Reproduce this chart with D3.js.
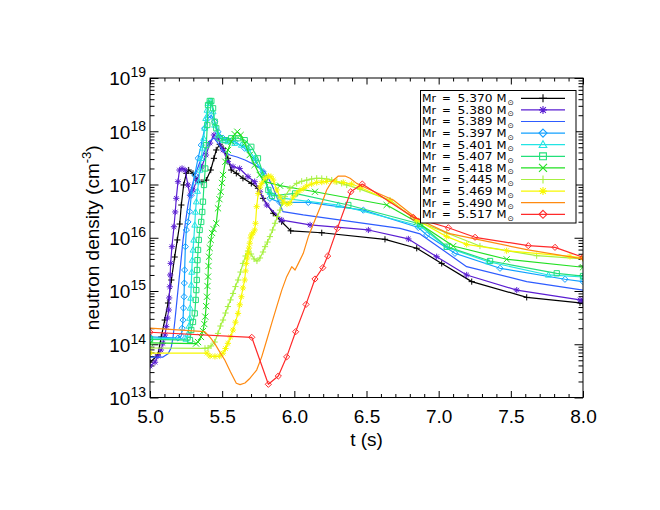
<!DOCTYPE html>
<html><head><meta charset="utf-8">
<script src="https://cdn.jsdelivr.net/npm/d3@7"></script>
<style>body{margin:0;background:#fff}svg{display:block}</style>
</head><body><svg id="c" width="660" height="510"></svg>
<script>
// ---------- data ----------
const categories = ["5.370","5.380","5.389","5.397","5.401","5.407","5.418","5.445","5.469","5.490","5.517"];

const t5370 = [5.000,5.055,5.078,5.102,5.125,5.148,5.171,5.189,5.206,5.217,5.233,5.252,5.268,5.298,5.328,5.360,5.390,5.421,5.443,5.459,5.483,5.506,5.540,5.563,5.598,5.644,5.702,5.748,5.783,5.854,5.912,5.975,6.190,6.628,6.848,7.021,7.229,7.610,7.979,8.000];
const n5370 = [4.6e13,6.3e13,1.37e14,2.85e14,5.95e14,1.61e15,4.35e15,9.1e15,1.81e16,4.12e16,9.8e16,1.62e17,1.87e17,1.62e17,1.21e17,1.1e17,1.21e17,1.87e17,3.1e17,4.45e17,5.7e17,4.78e17,3.1e17,1.87e17,1.62e17,1.31e17,1.05e17,8.5e16,5.5e16,2.88e16,2.0e16,1.35e16,1.24e16,9.35e15,6.35e15,3.3e15,1.5e15,7.6e14,6.0e14,5.8e14];

const t5380 = [5.000,5.035,5.055,5.076,5.090,5.104,5.113,5.121,5.130,5.133,5.137,5.140,5.143,5.152,5.166,5.175,5.182,5.194,5.204,5.222,5.243,5.263,5.277,5.298,5.326,5.358,5.388,5.416,5.443,5.471,5.506,5.540,5.575,5.621,5.679,5.725,5.762,5.809,5.913,6.109,6.513,6.790,6.986,7.194,7.541,7.979,8.000];
const n5380 = [3.9e13,4.6e13,6.0e13,7.8e13,1.04e14,1.49e14,2.14e14,3.1e14,4.4e14,7.4e14,1.2e15,2.0e15,3.3e15,6.8e15,1.61e16,3.05e16,5.5e16,1.13e17,1.87e17,2.0e17,1.87e17,9.8e16,6.3e16,7.9e16,1.21e17,2.13e17,3.58e17,6.0e17,8.5e17,7.4e17,4.45e17,2.68e17,2.16e17,2.0e17,1.4e17,1.13e17,7.3e16,4.12e16,2.15e16,1.74e16,1.4e16,9.5e15,4.4e15,2.0e15,1.04e15,6.8e14,6.6e14];

const t5389 = [5.000,5.090,5.125,5.146,5.159,5.173,5.187,5.201,5.215,5.229,5.246,5.263,5.284,5.312,5.346,5.381,5.416,5.443,5.471,5.506,5.554,5.603,5.658,5.728,5.797,5.845,5.887,5.921,6.062,6.732,6.871,7.194,7.610,8.000];
const n5389 = [5.75e13,5.75e13,6.6e13,8.5e13,1.31e14,2.85e14,6.8e14,1.61e15,3.8e15,9.1e15,1.98e16,4.12e16,7.9e16,1.51e17,2.65e17,4.45e17,6.6e17,7.5e17,6.0e17,4.25e17,3.58e17,3.28e17,2.88e17,2.32e17,1.72e17,9.8e16,5.1e16,3.1e16,2.68e16,1.5e16,1.18e16,2.86e15,1.5e15,1.04e15];

const t5397 = [5.000,5.194,5.217,5.223,5.229,5.232,5.236,5.238,5.240,5.245,5.252,5.263,5.275,5.286,5.310,5.333,5.355,5.379,5.402,5.425,5.448,5.471,5.506,5.540,5.587,5.656,5.725,5.783,5.831,5.901,6.097,6.478,6.859,6.917,7.113,7.425,7.875,8.000];
const n5397 = [1.37e14,1.31e14,1.43e14,2.0e14,2.85e14,4.8e14,7.8e14,1.41e15,2.48e15,6.8e15,1.4e16,1.98e16,3.1e16,6.3e16,1.51e17,3.1e17,5.5e17,1.14e18,1.75e18,2.0e18,1.51e18,9.8e17,7.4e17,6.8e17,6.4e17,4.78e17,2.88e17,1.74e17,5.5e16,4.6e16,4.6e16,3.3e16,1.56e16,1.13e16,5.1e15,2.67e15,1.66e15,1.5e15];

const t5401 = [5.000,5.249,5.263,5.270,5.275,5.278,5.282,5.286,5.289,5.293,5.298,5.303,5.310,5.315,5.321,5.329,5.337,5.346,5.355,5.364,5.372,5.379,5.386,5.395,5.402,5.421,5.437,5.448,5.471,5.506,5.540,5.587,5.633,5.679,5.725,5.783,5.831,5.901,6.305,6.871,7.056,7.344,7.760,8.000];
const n5401 = [1.31e14,1.25e14,1.56e14,2.2e14,3.1e14,4.8e14,7.4e14,1.3e15,2.27e15,3.8e15,5.9e15,9.1e15,1.74e16,3.05e16,4.75e16,7.5e16,1.13e17,1.87e17,3.1e17,4.85e17,7.4e17,1.15e18,1.75e18,2.5e18,3.35e18,3.6e18,2.33e18,1.31e18,8.5e17,6.8e17,6.4e17,5.95e17,5.5e17,4.78e17,3.1e17,1.51e17,7.2e16,5.6e16,4.12e16,1.66e16,6.6e15,3.55e15,2.0e15,1.83e15];

const t5407 = [5.000,5.277,5.286,5.298,5.310,5.317,5.321,5.324,5.326,5.329,5.333,5.338,5.344,5.355,5.362,5.367,5.374,5.383,5.390,5.397,5.402,5.414,5.425,5.437,5.448,5.459,5.483,5.518,5.563,5.610,5.656,5.702,5.748,5.795,5.820,5.845,6.005,6.374,6.871,7.056,7.356,7.818,8.000];
const n5407 = [1.23e14,1.2e14,1.85e14,2.62e14,3.8e14,6.8e14,1.04e15,1.61e15,2.48e15,3.8e15,5.9e15,9.1e15,1.4e16,1.98e16,3.05e16,4.75e16,9.8e16,2.0e17,5.5e17,1.31e18,3.1e18,3.7e18,3.7e18,2.7e18,1.51e18,1.14e18,7.4e17,6.8e17,7.4e17,7.4e17,6.8e17,5.1e17,3.1e17,1.31e17,7.9e16,6.1e16,6.8e16,4.12e16,1.81e16,6.8e15,3.66e15,2.15e15,1.91e15];

const t5418 = [5.000,5.319,5.333,5.353,5.367,5.376,5.383,5.389,5.395,5.398,5.402,5.405,5.409,5.414,5.421,5.430,5.440,5.459,5.471,5.481,5.490,5.499,5.506,5.522,5.540,5.563,5.587,5.605,5.628,5.656,5.691,5.725,5.760,5.795,5.901,6.143,6.640,6.848,7.101,7.471,8.000];
const n5418 = [1.06e14,1.03e14,1.1e14,1.37e14,1.77e14,2.4e14,3.3e14,5.2e14,7.8e14,1.24e15,1.86e15,2.95e15,4.4e15,6.4e15,9.1e15,1.23e16,1.46e16,1.87e16,3.57e16,5.3e16,7.3e16,1.07e17,1.51e17,2.68e17,4.45e17,6.4e17,8.8e17,9.8e17,8.5e17,5.95e17,3.58e17,2.32e17,1.51e17,1.13e17,9.5e16,7.3e16,4.12e16,1.98e16,7.0e15,3.94e15,2.79e15];

const t5445 = [5.000,5.381,5.402,5.423,5.448,5.471,5.488,5.506,5.523,5.540,5.558,5.575,5.592,5.610,5.627,5.644,5.662,5.679,5.700,5.721,5.741,5.762,5.783,5.797,5.814,5.831,5.849,5.866,5.883,5.901,5.918,5.935,5.970,6.016,6.051,6.086,6.120,6.155,6.190,6.224,6.259,6.294,6.328,6.363,6.455,6.663,6.848,7.056,7.286,7.679,8.000];
const n5445 = [8.5e13,8.4e13,8.5e13,9.3e13,1.1e14,1.6e14,2.2e14,2.85e14,3.86e14,5.1e14,6.8e14,9.0e14,1.21e15,1.61e15,2.27e15,3.3e15,4.54e15,5.64e15,4.95e15,4.0e15,3.66e15,4.17e15,5.4e15,6.8e15,8.3e15,1.05e16,1.4e16,1.87e16,2.5e16,3.3e16,4.5e16,5.9e16,8.5e16,1.05e17,1.15e17,1.21e17,1.27e17,1.31e17,1.3e17,1.27e17,1.21e17,1.13e17,1.05e17,9.8e16,8.2e16,5.1e16,2.06e16,1.23e16,7.0e15,4.6e15,4.0e15];

const t5469 = [5.000,5.395,5.416,5.450,5.483,5.506,5.523,5.540,5.558,5.575,5.592,5.610,5.622,5.633,5.644,5.656,5.662,5.667,5.674,5.679,5.686,5.691,5.697,5.702,5.714,5.725,5.731,5.739,5.750,5.762,5.774,5.797,5.820,5.838,5.854,5.878,5.901,5.924,5.949,5.970,5.993,6.016,6.039,6.062,6.086,6.120,6.155,6.190,6.224,6.282,6.339,6.397,6.455,6.663,6.848,7.056,7.194,7.471,7.910,8.000];
const n5469 = [6.8e13,6.8e13,6.0e13,5.9e13,6.0e13,6.8e13,8.3e13,1.04e14,1.37e14,1.85e14,2.6e14,3.8e14,5.5e14,7.8e14,1.14e15,1.61e15,2.38e15,3.3e15,4.17e15,5.1e15,6.4e15,7.9e15,9.9e15,1.13e16,1.23e16,1.4e16,1.87e16,3.83e16,6.8e16,8.9e16,1.05e17,1.32e17,1.44e17,1.4e17,1.21e17,7.9e16,5.8e16,4.7e16,4.3e16,4.5e16,5.8e16,6.9e16,7.7e16,8.4e16,9.4e16,1.02e17,1.09e17,1.11e17,1.14e17,1.14e17,1.09e17,1.02e17,8.9e16,4.9e16,2.15e16,1.05e16,7.5e15,5.7e15,4.46e15,4.17e15];

const t5490 = [5.000,5.379,5.414,5.448,5.483,5.518,5.558,5.598,5.624,5.658,5.693,5.739,5.774,5.809,5.843,5.878,5.913,5.947,5.982,6.005,6.028,6.062,6.097,6.143,6.190,6.224,6.259,6.305,6.351,6.386,6.432,6.501,6.686,6.848,7.067,7.619,8.000];
const n5490 = [2.0e14,1.72e14,1.37e14,1.04e14,7.2e13,5.05e13,3.0e13,1.85e13,1.75e13,1.87e13,2.3e13,3.28e13,5.8e13,1.2e14,2.47e14,5.1e14,1.04e15,1.86e15,2.86e15,2.48e15,3.3e15,5.1e15,1.05e16,2.15e16,4.4e16,7.9e16,1.13e17,1.44e17,1.44e17,1.31e17,1.05e17,8.5e16,5.1e16,2.3e16,1.21e16,5.9e15,4.0e15];

const t5517 = [5.000,5.705,5.820,5.889,5.947,6.009,6.081,6.143,6.197,6.231,6.298,6.391,6.471,6.824,7.067,7.252,7.621,7.806,8.000];
const n5517 = [1.68e14,1.35e14,1.77e13,2.53e13,5.8e13,1.72e14,5.6e14,1.68e15,2.74e15,4.54e15,1.5e16,7.3e16,1.02e17,2.42e16,1.54e16,1.02e16,7.1e15,6.6e15,4.3e15];

const xTickLabels = ["5.0","5.5","6.0","6.5","7.0","7.5","8.0"];
const yTickExponents = [13,14,15,16,17,18,19];

// ---------- styles ----------
const tArrays = [t5370,t5380,t5389,t5397,t5401,t5407,t5418,t5445,t5469,t5490,t5517];
const nArrays = [n5370,n5380,n5389,n5397,n5401,n5407,n5418,n5445,n5469,n5490,n5517];
const colors = ["#000000","#5a1ed2","#2e5cff","#12a0ff","#22e4e4","#22e07a","#22e022","#a6f040","#f8f800","#ff8a10","#ff2a2a"];
const symbols = ["plus","asterisk",null,"diamond","triangle","square","cross","plus","asterisk",null,"diamond"];

const FONT = "'Liberation Sans', Arial, Helvetica, sans-serif";
const svg = d3.select("#c");
const L = 150, R = 583, T = 78, B = 397.5;
const x = d3.scaleLinear().domain([5, 8]).range([L, R]);
const y = d3.scaleLog().domain([1e13, 1e19]).range([B, T]);

function symPath(type, h) {
  switch (type) {
    case "plus": return `M${-h},0H${h}M0,${-h}V${h}`;
    case "cross": return `M${-h},${-h}L${h},${h}M${-h},${h}L${h},${-h}`;
    case "asterisk": { const k = h * 0.72; return `M${-h},0H${h}M0,${-h}V${h}M${-k},${-k}L${k},${k}M${-k},${k}L${k},${-k}`; }
    case "diamond": return `M0,${-h}L${h},0L0,${h}L${-h},0Z`;
    case "triangle": return `M0,${-h}L${h*0.95},${h*0.7}L${-h*0.95},${h*0.7}Z`;
    case "square": return `M${-h*0.85},${-h*0.85}H${h*0.85}V${h*0.85}H${-h*0.85}Z`;
  }
  return "";
}

svg.append("defs").append("clipPath").attr("id", "clip")
  .append("rect").attr("x", L).attr("y", T).attr("width", R - L).attr("height", B - T);

// ---------- axes ----------
const xMajor = xTickLabels.map(Number);
const xMinor = d3.range(50, 81).map(v => v / 10).filter(v => !xMajor.some(m => Math.abs(m - v) < 1e-9));
const yMajor = yTickExponents.map(e => Math.pow(10, e));
const yMinor = [];
yTickExponents.slice(0, -1).forEach(e => { for (let k = 2; k <= 9; k++) yMinor.push(k * Math.pow(10, e)); });

function styleAxis(g) {
  g.select(".domain").remove();
  g.selectAll(".tick line").attr("stroke", "#000").attr("stroke-width", 1);
  g.attr("font-family", FONT);
}

const gxB = svg.append("g").attr("transform", `translate(0,${B})`)
  .call(d3.axisBottom(x).tickValues(xMajor).tickSize(-6.5).tickPadding(12).tickFormat((d, i) => xTickLabels[i]));
gxB.call(styleAxis).attr("font-size", 19);
gxB.selectAll(".tick text").attr("fill", "#000");
svg.append("g").attr("transform", `translate(0,${B})`)
  .call(d3.axisBottom(x).tickValues(xMinor).tickSize(-3.5).tickFormat("")).call(styleAxis);
svg.append("g").attr("transform", `translate(0,${T})`)
  .call(d3.axisTop(x).tickValues(xMajor).tickSize(-6.5).tickFormat("")).call(styleAxis);
svg.append("g").attr("transform", `translate(0,${T})`)
  .call(d3.axisTop(x).tickValues(xMinor).tickSize(-3.5).tickFormat("")).call(styleAxis);

const gyL = svg.append("g").attr("transform", `translate(${L},0)`)
  .call(d3.axisLeft(y).tickValues(yMajor).tickSize(-8.5).tickPadding(4).tickFormat(""));
gyL.call(styleAxis).attr("font-size", 19);
gyL.selectAll(".tick text").each(function (d, i) {
  const t = d3.select(this);
  t.attr("dy", null).attr("y", 6.8).attr("fill", "#000");
  t.append("tspan").text("10");
  t.append("tspan").attr("dy", -8).attr("font-size", 14).text(yTickExponents[i]);
});
svg.append("g").attr("transform", `translate(${L},0)`)
  .call(d3.axisLeft(y).tickValues(yMinor).tickSize(-4.5).tickFormat("")).call(styleAxis);
svg.append("g").attr("transform", `translate(${R},0)`)
  .call(d3.axisRight(y).tickValues(yMajor).tickSize(-8.5).tickFormat("")).call(styleAxis);
svg.append("g").attr("transform", `translate(${R},0)`)
  .call(d3.axisRight(y).tickValues(yMinor).tickSize(-4.5).tickFormat("")).call(styleAxis);

// titles
svg.append("text").attr("x", (L + R) / 2).attr("y", 446).attr("text-anchor", "middle")
  .attr("font-family", FONT).attr("font-size", 19).text("t (s)");
const yt = svg.append("text").attr("transform", `translate(99,${(T + B) / 2}) rotate(-90)`)
  .attr("text-anchor", "middle").attr("font-family", FONT).attr("font-size", 19);
yt.append("tspan").text("neutron density (cm");
yt.append("tspan").attr("dy", -8).attr("font-size", 13).text("-3");
yt.append("tspan").attr("dy", 8).text(")");

// ---------- data ----------
const plot = svg.append("g").attr("clip-path", "url(#clip)");
const line = d3.line().x(d => x(d[0])).y(d => y(d[1]));
categories.forEach((c, i) => {
  const pts = tArrays[i].map((t, j) => [t, nArrays[i][j]]);
  const g = plot.append("g");
  g.append("path").attr("d", line(pts)).attr("fill", "none")
    .attr("stroke", colors[i]).attr("stroke-width", 1.2).attr("stroke-linejoin", "round");
  if (symbols[i]) {
    g.selectAll("path.m").data(pts).enter().append("path").attr("class", "m")
      .attr("transform", d => `translate(${x(d[0])},${y(d[1])})`)
      .attr("d", symPath(symbols[i], 3.1)).attr("fill", "none")
      .attr("stroke", colors[i]).attr("stroke-width", 1);
  }
});

svg.append("rect").attr("x", L).attr("y", T).attr("width", R - L).attr("height", B - T)
  .attr("fill", "none").attr("stroke", "#000").attr("stroke-width", 1);

// ---------- legend ----------
const lg = svg.append("g");
lg.append("rect").attr("x", 420.5).attr("y", 90.5).attr("width", 155.5).attr("height", 132.5)
  .attr("fill", "#fff").attr("stroke", "#000").attr("stroke-width", 1);
const LF = "'DejaVu Sans', Verdana, sans-serif";
categories.forEach((c, i) => {
  const cy = 98.3 + i * 11.6;
  const tx = lg.append("text").attr("font-family", LF).attr("font-size", 10.5).attr("y", cy + 3.9).attr("fill", "#000");
  tx.append("tspan").attr("x", 422).attr("textLength", 14).attr("lengthAdjust", "spacingAndGlyphs").text("Mr");
  tx.append("tspan").attr("x", 442).text("=");
  tx.append("tspan").attr("x", 457.5).attr("textLength", 35).attr("lengthAdjust", "spacingAndGlyphs").text(c);
  tx.append("tspan").attr("x", 496.5).attr("textLength", 10).attr("lengthAdjust", "spacingAndGlyphs").text("M");
  tx.append("tspan").attr("x", 507.5).attr("dy", 2.6).attr("font-size", 7.5).text("\u2299");
  lg.append("line").attr("x1", 521).attr("x2", 565).attr("y1", cy).attr("y2", cy)
    .attr("stroke", colors[i]).attr("stroke-width", 1.2);
  if (symbols[i]) {
    lg.append("path").attr("transform", `translate(543,${cy})`).attr("d", symPath(symbols[i], 4))
      .attr("fill", "none").attr("stroke", colors[i]).attr("stroke-width", 1.1);
  }
});
</script>
</body></html>
